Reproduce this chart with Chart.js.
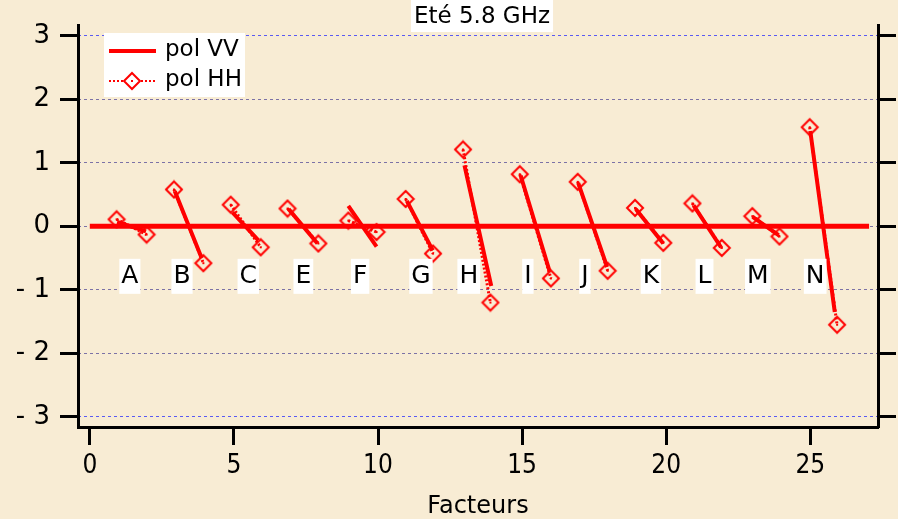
<!DOCTYPE html>
<html>
<head>
<meta charset="utf-8">
<script src="https://cdn.jsdelivr.net/npm/chart.js@4/dist/chart.umd.min.js"></script>
<style>
  html, body { margin: 0; padding: 0; background: #f8ecd2; }
  canvas { display: block; }
</style>
</head>
<body>
<canvas id="chart" width="898" height="519"></canvas>
<script>
// factor names and where their letters sit on the x axis
const factors = ['A', 'B', 'C', 'E', 'F', 'G', 'H', 'I', 'J', 'K', 'L', 'M', 'N'];
const labelX = [1.39, 3.2, 5.5, 7.41, 9.38, 11.49, 13.15, 15.2, 17.18, 19.47, 21.33, 23.18, 25.17];
const labelY = -0.78;

// pol HH: start / end of each segment
const hhX1 = [0.93, 2.92, 4.89, 6.86, 8.97, 10.96, 12.95, 14.92, 16.93, 18.92, 20.91, 22.99, 24.98];
const hhY1 = [0.11, 0.58, 0.34, 0.28, 0.09, 0.43, 1.21, 0.82, 0.70, 0.29, 0.36, 0.16, 1.56];
const hhX2 = [1.97, 3.94, 5.93, 7.93, 9.95, 11.91, 13.90, 16.00, 17.97, 19.90, 21.93, 23.93, 25.93];
const hhY2 = [-0.13, -0.58, -0.33, -0.27, -0.09, -0.43, -1.20, -0.82, -0.70, -0.26, -0.34, -0.16, -1.55];

// pol VV: start / end of each segment
const vvX1 = [0.95, 2.95, 4.95, 6.9, 8.97, 11.0, 13.0, 14.95, 16.95, 18.95, 20.95, 23.0, 25.0];
const vvY1 = [0.07, 0.55, 0.22, 0.27, 0.32, 0.40, 0.96, 0.80, 0.68, 0.27, 0.33, 0.15, 1.50];
const vvX2 = [1.95, 3.88, 5.85, 7.9, 9.95, 11.9, 13.93, 15.95, 17.95, 19.9, 21.9, 23.9, 25.85];
const vvY2 = [-0.08, -0.5, -0.22, -0.27, -0.32, -0.38, -0.94, -0.70, -0.64, -0.27, -0.33, -0.14, -1.35];

// zero reference line
const zeroX = [0, 27.04];
const zeroY = [0, 0];

const xTicks = [0, 5, 10, 15, 20, 25];
const yTicks = [-3, -2, -1, 0, 1, 2, 3];
const innerGrid = [-2, -1, 0, 1, 2];
const outerGrid = [-3, 3];

const RED = '#ff0000';
const BG = '#f8ecd4';
const FONT = '"DejaVu Sans"';
const Y_MIN = -3.16, Y_MAX = 3.16;

function pairs(x1, y1, x2, y2) {
  const out = [];
  for (let i = 0; i < x1.length; i++) {
    out.push({x: x1[i], y: y1[i]}, {x: x2[i], y: y2[i]});
    out.push({x: x2[i] + 0.01, y: null});
  }
  return out;
}

// diamond marker with a small dot in the middle
function makeDiamond(r) {
  const c = document.createElement('canvas');
  const s = Math.ceil(r * 2 + 4);
  c.width = s; c.height = s;
  const g = c.getContext('2d');
  const m = s / 2;
  g.strokeStyle = RED;
  g.lineWidth = 2;
  g.beginPath();
  g.moveTo(m, m - r); g.lineTo(m + r, m); g.lineTo(m, m + r); g.lineTo(m - r, m); g.closePath();
  g.stroke();
  g.fillStyle = RED;
  g.fillRect(m - 1, m - 1, 2, 2);
  return c;
}
const diamond = makeDiamond(8);

const decorations = {
  id: 'decorations',
  beforeDraw(chart) {
    const ctx = chart.ctx;
    ctx.save();
    ctx.fillStyle = BG;
    ctx.fillRect(0, 0, chart.width, chart.height);
    ctx.restore();
  },
  afterDatasetsDraw(chart) {
    const ctx = chart.ctx;
    const xs = chart.scales.x, ys = chart.scales.y;
    ctx.save();
    ctx.font = '25px ' + FONT;
    ctx.textAlign = 'center';
    ctx.textBaseline = 'middle';
    factors.forEach((f, i) => {
      const px = xs.getPixelForValue(labelX[i]);
      const py = ys.getPixelForValue(labelY);
      const w = ctx.measureText(f).width + 4;
      ctx.fillStyle = '#ffffff';
      ctx.fillRect(px - w / 2, py - 17, w, 35);
      ctx.fillStyle = '#000000';
      ctx.fillText(f, px, py + 1);
    });
    ctx.restore();
  },
  afterDraw(chart) {
    const ctx = chart.ctx;
    ctx.save();
    // title
    ctx.font = '23px ' + FONT;
    ctx.textAlign = 'center';
    ctx.textBaseline = 'middle';
    const title = 'Eté 5.8 GHz';
    const tw = ctx.measureText(title).width + 6;
    ctx.fillStyle = '#ffffff';
    ctx.fillRect(482 - tw / 2, 0, tw, 32);
    ctx.fillStyle = '#000000';
    ctx.fillText(title, 482, 17);

    // legend
    ctx.fillStyle = '#ffffff';
    ctx.fillRect(104, 33, 141, 64);
    ctx.strokeStyle = RED;
    ctx.lineWidth = 4;
    ctx.beginPath(); ctx.moveTo(109, 51); ctx.lineTo(156, 51); ctx.stroke();
    ctx.lineWidth = 2;
    ctx.setLineDash([2, 2]);
    ctx.beginPath(); ctx.moveTo(109, 81); ctx.lineTo(156, 81); ctx.stroke();
    ctx.setLineDash([]);
    ctx.fillStyle = '#ffffff';
    ctx.beginPath();
    ctx.moveTo(132, 73); ctx.lineTo(140, 81); ctx.lineTo(132, 89); ctx.lineTo(124, 81); ctx.closePath();
    ctx.fill();
    ctx.drawImage(diamond, 132 - diamond.width / 2, 81 - diamond.height / 2);
    ctx.fillStyle = '#000000';
    ctx.textAlign = 'left';
    ctx.font = '23px ' + FONT;
    ctx.fillText('pol VV', 165, 50);
    ctx.fillText('pol HH', 165, 80);
    ctx.restore();
  }
};

// an axis that only draws dotted lines across the plot
function gridOnlyAxis(values, color) {
  return {
    position: 'left',
    min: Y_MIN,
    max: Y_MAX,
    afterBuildTicks: s => { s.ticks = values.map(value => ({value})); },
    afterFit: s => { s.width = 0; },
    grid: {color, lineWidth: 1, drawTicks: false, tickLength: 0},
    border: {display: false, dash: [3, 3]},
    ticks: {display: false},
  };
}

new Chart(document.getElementById('chart'), {
  type: 'scatter',
  data: {
    datasets: [
      {
        label: 'zero',
        data: zeroX.map((x, i) => ({x, y: zeroY[i]})),
        showLine: true,
        borderColor: RED,
        borderWidth: 5,
        pointRadius: 0,
      },
      {
        label: 'pol VV',
        data: pairs(vvX1, vvY1, vvX2, vvY2),
        showLine: true,
        borderColor: RED,
        borderWidth: 4,
        pointRadius: 0,
      },
      {
        label: 'pol HH',
        data: pairs(hhX1, hhY1, hhX2, hhY2),
        showLine: true,
        borderColor: RED,
        borderWidth: 3,
        borderDash: [2, 2],
        pointStyle: diamond,
        pointRadius: 8,
      },
    ],
  },
  options: {
    responsive: false,
    animation: false,
    layout: {padding: {top: 23, left: 0, right: 0, bottom: 0}},
    plugins: {
      legend: {display: false},
      tooltip: {enabled: false},
    },
    scales: {
      x: {
        type: 'linear',
        min: -0.41,
        max: 27.35,
        afterBuildTicks: s => { s.ticks = xTicks.map(value => ({value})); },
        afterFit: s => { s.height = 92; },
        grid: {
          drawOnChartArea: false,
          tickLength: 18,
          tickWidth: 3,
          tickColor: '#000000',
        },
        border: {color: '#000000', width: 3},
        ticks: {
          color: '#000000',
          padding: 6,
          maxRotation: 0,
          font: {family: '"DejaVu Sans Condensed", "DejaVu Sans"', size: 26},
        },
        title: {
          display: true,
          text: 'Facteurs',
          color: '#000000',
          font: {family: FONT, size: 24},
          padding: {top: 0, bottom: -2},
        },
      },
      gridInner: gridOnlyAxis(innerGrid, '#7c72a6'),
      gridOuter: gridOnlyAxis(outerGrid, '#5a5af2'),
      y: {
        position: 'left',
        min: Y_MIN,
        max: Y_MAX,
        afterBuildTicks: s => { s.ticks = yTicks.map(value => ({value})); },
        afterFit: s => { s.width = 78; },
        grid: {
          drawOnChartArea: false,
          tickLength: 18,
          tickWidth: 3,
          tickColor: '#000000',
        },
        border: {color: '#000000', width: 3},
        ticks: {
          color: '#000000',
          padding: 10,
          font: {family: FONT, size: 26},
          callback: v => v < 0 ? '- ' + Math.abs(v) : String(v),
        },
      },
      y2: {
        position: 'right',
        min: Y_MIN,
        max: Y_MAX,
        afterBuildTicks: s => { s.ticks = yTicks.map(value => ({value})); },
        afterFit: s => { s.width = 20; },
        grid: {
          drawOnChartArea: false,
          tickLength: 18,
          tickWidth: 3,
          tickColor: '#000000',
        },
        border: {color: '#000000', width: 3},
        ticks: {display: false},
      },
    },
  },
  plugins: [decorations],
});
</script>
</body>
</html>
